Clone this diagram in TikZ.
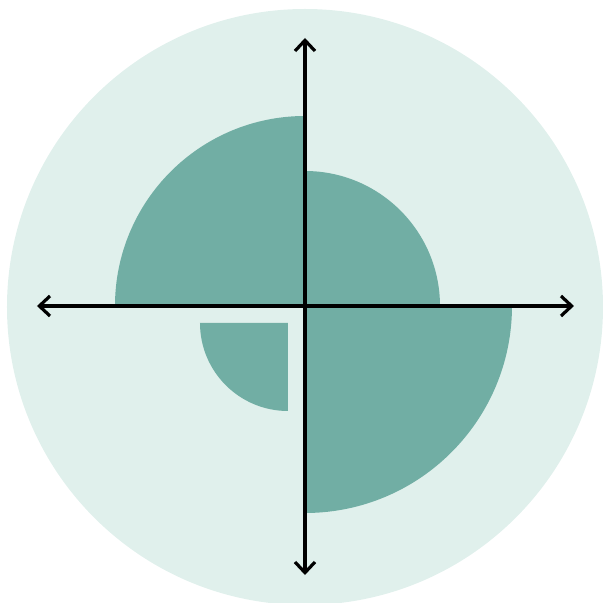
\documentclass[tikz,border=0pt]{standalone}
\usetikzlibrary{arrows.meta}
\definecolor{bgteal}{HTML}{E0F0EC}
\definecolor{sectorteal}{HTML}{71AEA4}

\begin{document}
\begin{tikzpicture}[
        x=0.75pt, y=0.75pt,
        sector/.style={fill=sectorteal, draw=none},
        axis/.style={{Straight Barb[length=8pt, width=15pt, line width=2.4pt]}-{Straight Barb[length=8pt, width=15pt, line width=2.4pt]}, line width=2.4pt, black}
      ]
        \useasboundingbox (-305,-297) rectangle (299,306);
        \coordinate (o) at (0,0);
        \fill[bgteal] (o) ++(0,-1) circle[radius=298];
        % quadrant sectors
        \fill[sector] (o) -- (-190,0) arc[start angle=180, end angle=90, radius=190] -- cycle;
        \fill[sector] (o) -- (135,0) arc[start angle=0, end angle=90, radius=135] -- cycle;
        \fill[sector] (o) -- (0,-207) arc[start angle=270, end angle=360, radius=207] -- cycle;
        \coordinate (q) at (-17,-17);
        \fill[sector] (q) -- ++(-88,0) arc[start angle=180, end angle=270, radius=88] -- cycle;
        % axes
        \coordinate (west) at (-268,0);
        \coordinate (east) at (269,0);
        \coordinate (north) at (0,268);
        \coordinate (south) at (0,-269);
        \draw[axis] (west) -- (east);
        \draw[axis] (south) -- (north);
      \end{tikzpicture}
\end{document}
